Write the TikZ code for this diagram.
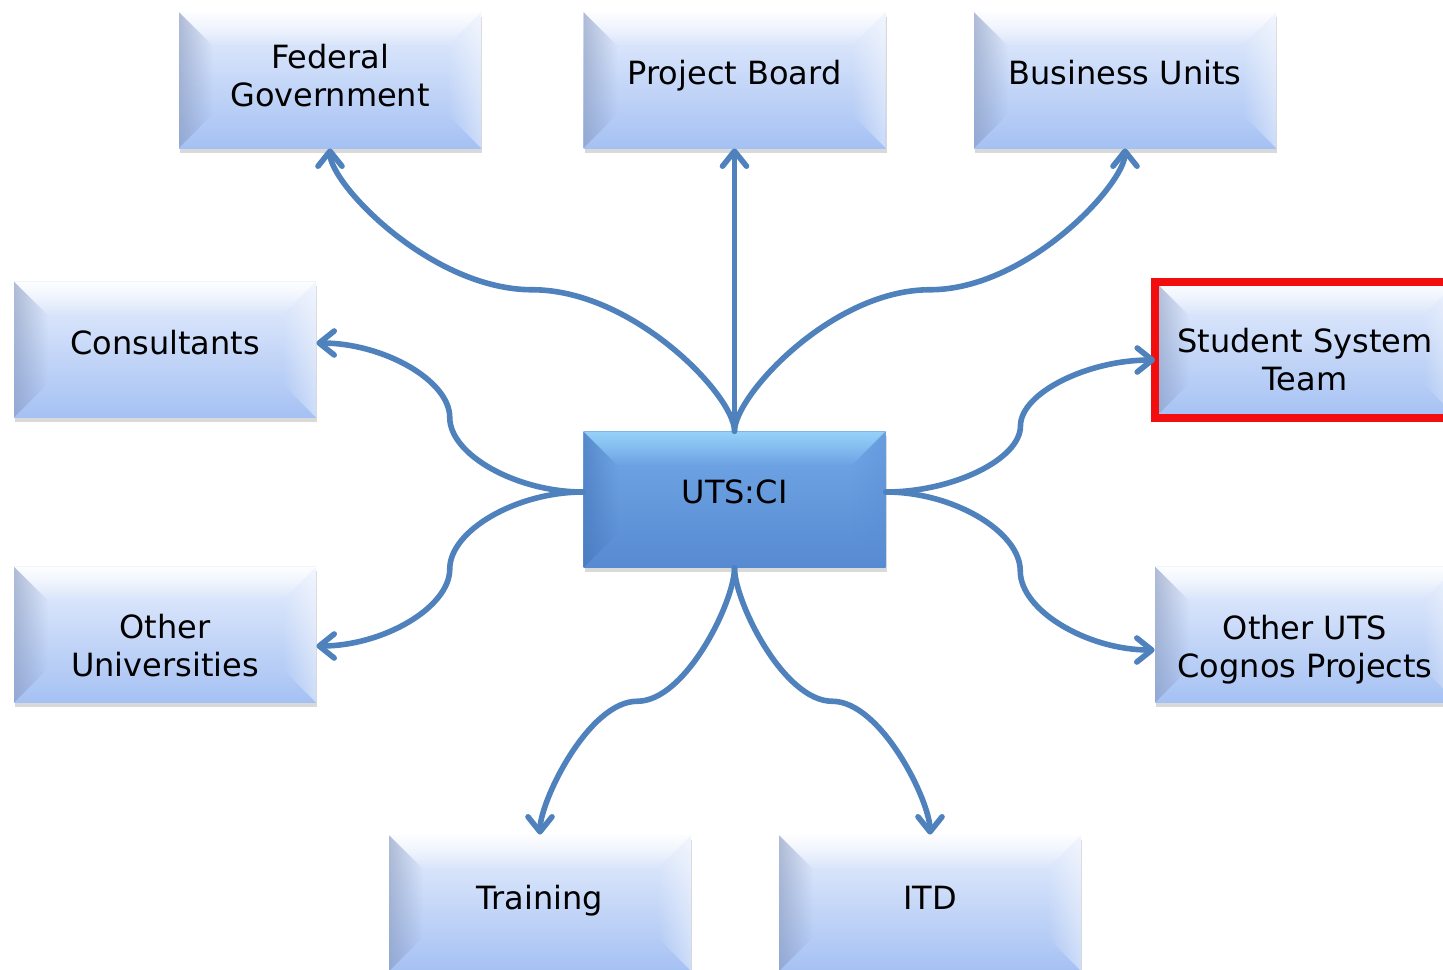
\documentclass[tikz,border=0pt]{standalone}
\usepackage{fontspec}
\setmainfont{DejaVu Sans}
\usetikzlibrary{arrows.meta, calc, shadows, fadings}

\definecolor{linkblue}{HTML}{4F81BD}
\definecolor{boxtop}{HTML}{E8EFFD}
\definecolor{boxmid}{HTML}{C8D8F8}
\definecolor{boxbot}{HTML}{A5C1F3}
\definecolor{hubtop}{HTML}{72A9E8}
\definecolor{hubmid}{HTML}{5A8ED5}
\definecolor{hubbot}{HTML}{578AD1}
\definecolor{bevdark}{HTML}{8494B8}
\definecolor{hubdark}{HTML}{4272B5}
\definecolor{hubcyan}{HTML}{9AD6FB}
\definecolor{alertred}{HTML}{F20E0E}

\tikzset{
  bevel/.style n args={3}{path picture={
      \coordinate (bnw) at (path picture bounding box.north west);
      \coordinate (bne) at (path picture bounding box.north east);
      \coordinate (bsw) at (path picture bounding box.south west);
      \coordinate (bse) at (path picture bounding box.south east);
      % left, top and right faces of the bevel
      \fill[#1, fill opacity=.55, path fading=east]
        (bnw) -- ($(bnw)+(17pt,-17pt)$) -- ($(bsw)+(17pt,17pt)$) -- (bsw) -- cycle;
      \fill[#2, fill opacity=.9, path fading=south]
        (bnw) -- (bne) -- ($(bne)+(-17pt,-17pt)$) -- ($(bnw)+(17pt,-17pt)$) -- cycle;
      \fill[#3, fill opacity=.45, path fading=west]
        (bne) -- (bse) -- ($(bse)+(-17pt,17pt)$) -- ($(bne)+(-17pt,-17pt)$) -- cycle;
  }},
  box/.style={minimum width=151pt, minimum height=68pt, inner sep=0pt,
    top color=boxtop, middle color=boxmid, bottom color=boxbot,
    drop shadow={opacity=.3, shadow xshift=.6pt, shadow yshift=-2.4pt},
    bevel={bevdark}{white}{white}},
  hub/.style={box, top color=hubtop, middle color=hubmid, bottom color=hubbot,
    bevel={hubdark}{hubcyan}{hubmid}},
  alert/.style={draw=alertred, line width=4pt, outer sep=0pt},
  lbl/.style={font=\fontsize{16}{19}\selectfont, align=center, inner sep=0pt},
  link/.style={draw=linkblue, line width=2.8pt, line cap=round,
    -{Straight Barb[length=7.5pt, width=12pt, round]}},
  % curved connectors, leaving and reaching the boxes straight
  hcurve/.style={to path={let \p1=(\tikztostart), \p2=(\tikztotarget),
      \p3=($(\p1)!.5!(\p2)$) in
      .. controls ($(\p1)!.5!(\x3,\y1)$) and (\x3,{(3*\y1+\y2)/4}) .. (\p3)
      .. controls (\x3,{(\y1+3*\y2)/4}) and ($(\p2)!.5!(\x3,\y2)$) .. (\p2)}},
  vcurve/.style={to path={let \p1=(\tikztostart), \p2=(\tikztotarget),
      \p3=($(\p1)!.5!(\p2)$) in
      .. controls (\x1,{(3*\y1+\y3)/4}) and ($(\p3)!.5!(\x1,\y3)$) .. (\p3)
      .. controls ($(\p3)!.5!(\x2,\y3)$) and (\x2,{(\y3+3*\y2)/4}) .. (\p2)}}
}

\begin{document}
\begin{tikzpicture}[x=0.5pt, y=-0.5pt]
    \useasboundingbox (0,0) rectangle (1443,969);

    % boxes
    \node[box]        (fed)  at (330,80)     {};
    \node[box]        (pb)   at (734.5,80)   {};
    \node[box]        (bu)   at (1125,80)    {};
    \node[box]        (cons) at (165,349.5)  {};
    \node[box, alert] (sst)  at (1306,349.5) {};
    \node[hub]        (uts)  at (734.5,499.5) {};
    \node[box]        (ou)   at (165,634.5)  {};
    \node[box]        (oc)   at (1306,634.5) {};
    \node[box]        (tr)   at (540,903)    {};
    \node[box]        (itd)  at (930,903)    {};

    % texts
    \node[lbl] (fed-txt)  at (330,76)    {Federal\\Government};
    \node[lbl] (pb-txt)   at (734.5,76)  {Project Board};
    \node[lbl] (bu-txt)   at (1125,73)   {Business Units};
    \node[lbl] (cons-txt) at (165,343)   {Consultants};
    \node[lbl] (sst-txt)  at (1305,360)  {Student System\\Team};
    \node[lbl] (uts-txt)  at (734.5,492) {UTS:CI};
    \node[lbl] (ou-txt)   at (165,646)   {Other\\Universities};
    \node[lbl] (oc-txt)   at (1305,650)  {Other UTS\\Cognos Projects};
    \node[lbl] (tr-txt)   at (540,901)   {Training};
    \node[lbl] (itd-txt)  at (930,898)   {ITD};

    % connectors
    \draw[link] (uts.north) to[vcurve] (fed.south);
    \draw[link] (uts.north) -- (pb.south);
    \draw[link] (uts.north) to[vcurve] (bu.south);
    \draw[link] (uts.west |- uts-txt) to[hcurve] (cons.east |- cons-txt);
    \draw[link] (uts.west |- uts-txt) to[hcurve] (ou.east |- ou-txt);
    \draw[link] (uts.east |- uts-txt) to[hcurve] (sst.west |- sst-txt);
    \draw[link] (uts.east |- uts-txt) to[hcurve] (oc.west |- oc-txt);
    \draw[link] (uts.south) to[vcurve] (tr.north);
    \draw[link] (uts.south) to[vcurve] (itd.north);
\end{tikzpicture}
\end{document}
